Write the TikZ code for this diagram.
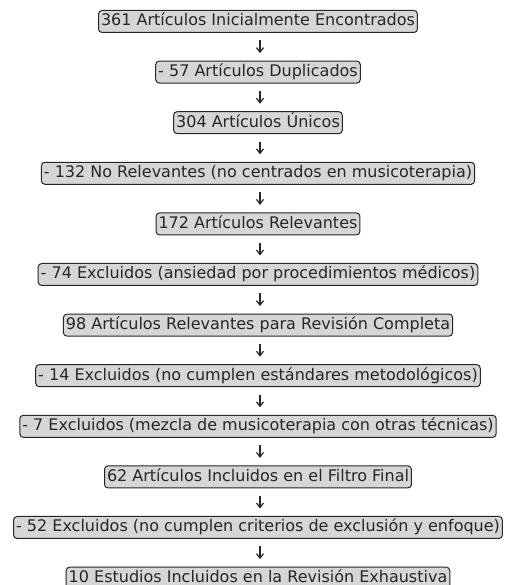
\documentclass[tikz,border=0pt]{standalone}
\usepackage{fontspec}
\setmainfont{DejaVu Sans}
\usetikzlibrary{arrows.meta}
\definecolor{boxfill}{HTML}{D6D6D6}
\definecolor{ink}{HTML}{262626}
\begin{document}
\begin{tikzpicture}[x=1pt,y=1pt,
  stepbox/.style={draw=ink,line width=1pt,fill=boxfill,rounded corners=3.5pt,
    font=\fontsize{16}{18}\selectfont,text=ink,inner xsep=2.5pt,inner ysep=0pt,
    text height=13pt,text depth=4pt,minimum height=22pt},
  flow/.style={draw=ink,line width=1.2pt,-{Straight Barb[length=4.5pt,width=7pt]},shorten >=7.5pt,shorten <=7.5pt}]
\useasboundingbox (0,0) rectangle (506,585);
\def\cx{258}
\node[stepbox] (n1) at (\cx,563.5) {361 Artículos Inicialmente Encontrados};
\node[stepbox] (n2) at (\cx,512.9) {- 57 Artículos Duplicados};
\node[stepbox] (n3) at (\cx,462.3) {304 Artículos Únicos};
\node[stepbox] (n4) at (\cx,411.7) {- 132 No Relevantes (no centrados en musicoterapia)};
\node[stepbox] (n5) at (\cx,361.1) {172 Artículos Relevantes};
\node[stepbox] (n6) at (\cx,310.5) {- 74 Excluidos (ansiedad por procedimientos médicos)};
\node[stepbox] (n7) at (\cx,259.9) {98 Artículos Relevantes para Revisión Completa};
\node[stepbox] (n8) at (\cx,209.3) {- 14 Excluidos (no cumplen estándares metodológicos)};
\node[stepbox] (n9) at (\cx,158.7) {- 7 Excluidos (mezcla de musicoterapia con otras técnicas)};
\node[stepbox] (n10) at (\cx,108.1) {62 Artículos Incluidos en el Filtro Final};
\node[stepbox] (n11) at (\cx,57.5) {- 52 Excluidos (no cumplen criterios de exclusión y enfoque)};
\node[stepbox] (n12) at (\cx,6.9) {10 Estudios Incluidos en la Revisión Exhaustiva};
\foreach \a/\b in {n1/n2,n2/n3,n3/n4,n4/n5,n5/n6,n6/n7,n7/n8,n8/n9,n9/n10,n10/n11,n11/n12}
  \draw[flow] ([xshift=2pt]\a.south) -- ([xshift=2pt]\b.north);
\end{tikzpicture}
\end{document}
